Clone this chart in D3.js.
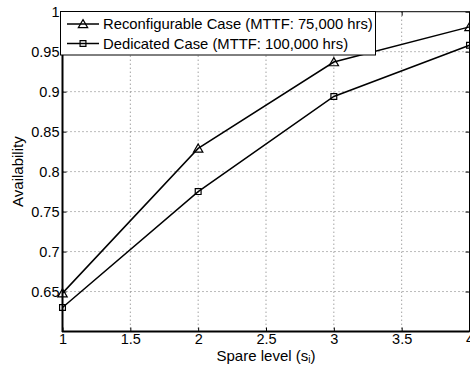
<!DOCTYPE html>
<html><head><meta charset="utf-8">
<script src="https://cdn.jsdelivr.net/npm/d3@7"></script>
<style>body{margin:0;background:#fff}svg{display:block}text{font-family:"Liberation Sans",Arial,Helvetica,sans-serif;fill:#000}</style>
</head><body><svg id="c" width="470" height="366"></svg>
<script>
const spareLevels = [1, 2, 3, 4];
const reconfigurable = [0.648, 0.829, 0.937, 0.981];
const dedicated = [0.630, 0.775, 0.894, 0.958];
const xTicks = [1, 1.5, 2, 2.5, 3, 3.5, 4];
const yTicks = [0.65, 0.7, 0.75, 0.8, 0.85, 0.9, 0.95, 1];
const seriesNames = ["Reconfigurable Case (MTTF: 75,000 hrs)", "Dedicated Case (MTTF: 100,000 hrs)"];

const svg = d3.select("#c");
const L = 62.5, R = 469.5, T = 11.7, B = 331.5;
const x = d3.scaleLinear().domain([1, 4]).range([L, R]);
const y = d3.scaleLinear().domain([0.6, 1]).range([B, T]);

// grid
const grid = svg.append("g").attr("stroke", "#555").attr("stroke-width", 0.8).attr("stroke-dasharray", "1,3");
grid.selectAll(".gx").data(xTicks.filter(d => d > 1 && d < 4)).join("line")
  .attr("x1", d => x(d)).attr("x2", d => x(d)).attr("y1", T).attr("y2", B);
grid.selectAll(".gy").data(yTicks.filter(d => d < 1)).join("line")
  .attr("y1", d => y(d)).attr("y2", d => y(d)).attr("x1", L).attr("x2", R);

// axes
const fs = 14.5;
const xAxis = svg.append("g").attr("transform", `translate(0,${B})`)
  .call(d3.axisBottom(x).tickValues(xTicks).tickSize(-4).tickPadding(5).tickFormat(d3.format("")));
const yAxis = svg.append("g").attr("transform", `translate(${L},0)`)
  .call(d3.axisLeft(y).tickValues(yTicks).tickSize(-4).tickPadding(3).tickFormat(d => String(+d.toFixed(2))));
svg.append("g").attr("transform", `translate(0,${T})`)
  .call(d3.axisTop(x).tickValues(xTicks).tickSize(-4).tickFormat(""));
svg.append("g").attr("transform", `translate(${R},0)`)
  .call(d3.axisRight(y).tickValues(yTicks).tickSize(-4).tickFormat(""));
svg.selectAll(".domain").remove();
svg.selectAll(".tick line").attr("stroke", "#000").attr("stroke-width", 1);
svg.selectAll(".tick text").attr("font-size", fs).attr("font-family", "Liberation Sans, Arial, sans-serif").attr("fill", "#000");
xAxis.selectAll(".tick text").attr("dy", "0.55em");
// frame
svg.append("rect").attr("x", L).attr("y", T).attr("width", R - L).attr("height", B - T)
  .attr("fill", "none").attr("stroke", "#000").attr("stroke-width", 1);
svg.append("line").attr("x1", L).attr("x2", L).attr("y1", T).attr("y2", B + 0.5).attr("stroke", "#000").attr("stroke-width", 2);
svg.append("line").attr("x1", L - 0.5).attr("x2", R).attr("y1", B).attr("y2", B).attr("stroke", "#000").attr("stroke-width", 2);

// labels
svg.append("text").attr("x", x(2.5)).attr("y", 360.5).attr("text-anchor", "middle").attr("font-size", 15)
  .html('Spare level (s<tspan font-size="10" dy="2.5">i</tspan><tspan dy="-2.5">)</tspan>');
svg.append("text").attr("transform", `translate(23,${(T + B) / 2}) rotate(-90)`).attr("text-anchor", "middle")
  .attr("font-size", 15).text("Availability");

// series
const line = d3.line().x((d, i) => x(spareLevels[i])).y(d => y(d));
const tri = d3.symbol().type(d3.symbolTriangle).size(38);
const sq = d3.symbol().type(d3.symbolSquare).size(34);
const series = [{v: reconfigurable, sym: tri, dy: 1}, {v: dedicated, sym: sq, dy: 0}];
series.forEach(s => {
  svg.append("path").attr("d", line(s.v)).attr("fill", "none").attr("stroke", "#000").attr("stroke-width", 1.5);
  svg.selectAll(null).data(s.v).join("path").attr("d", s.sym)
    .attr("transform", (d, i) => `translate(${x(spareLevels[i])},${y(d) + s.dy})`)
    .attr("fill", "none").attr("stroke", "#000").attr("stroke-width", 1.2);
});

// legend
const lg = svg.append("g");
lg.append("rect").attr("x", 60.5).attr("y", 11.5).attr("width", 315).attr("height", 43.5)
  .attr("fill", "#fff").attr("stroke", "#000").attr("stroke-width", 1);
seriesNames.forEach((name, i) => {
  const cy = 24 + i * 19.5;
  lg.append("line").attr("x1", 67).attr("x2", 99).attr("y1", cy).attr("y2", cy).attr("stroke", "#000").attr("stroke-width", 1.5);
  lg.append("path").attr("d", series[i].sym).attr("transform", `translate(83,${cy + series[i].dy})`)
    .attr("fill", "none").attr("stroke", "#000").attr("stroke-width", 1.2);
  lg.append("text").attr("x", 103).attr("y", cy).attr("dy", "0.36em").attr("font-size", 14.8).text(name);
});
</script></body></html>
